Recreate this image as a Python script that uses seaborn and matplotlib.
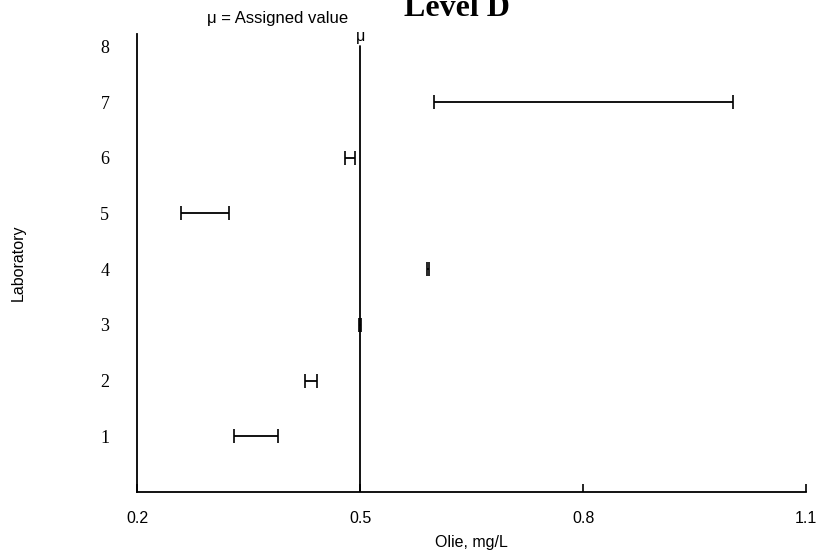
import matplotlib
matplotlib.use("Agg")
import matplotlib.pyplot as plt
import numpy as np
import pandas as pd
import seaborn as sns

# Data (interval low / high per laboratory)
labs = [1, 2, 3, 4, 5, 6, 7]
low = [0.330, 0.426, 0.499, 0.590, 0.259, 0.479, 0.600]
high = [0.390, 0.442, 0.501, 0.592, 0.323, 0.493, 1.002]
assigned_value = 0.5
x_ticks = [0.2, 0.5, 0.8, 1.1]
y_ticks = [1, 2, 3, 4, 5, 6, 7, 8]

df = pd.DataFrame({"Lab": labs, "Low": low, "High": high})
df["Mid"] = (df["Low"] + df["High"]) / 2
df["Half"] = (df["High"] - df["Low"]) / 2

sns.set_theme(style="white")
plt.rcParams["font.family"] = ["Liberation Sans", "DejaVu Sans"]
plt.rcParams["text.color"] = "black"
plt.rcParams["xtick.color"] = "black"
plt.rcParams["ytick.color"] = "black"
plt.rcParams["axes.labelcolor"] = "black"

fig = plt.figure(figsize=(8.16, 5.59), dpi=100)
ax = fig.add_axes([0.168, 0.12, 0.82, 0.819])

ax.errorbar(df["Mid"], df["Lab"], xerr=df["Half"], fmt="none",
            ecolor="black", elinewidth=1.3, capsize=4.7, capthick=1.2)

# assigned value line
ax.plot([assigned_value, assigned_value], [0, 8.0], color="black", lw=1.3)
ax.text(assigned_value, 8.05, "μ", ha="center", va="bottom", fontsize=11.5)

ax.set_xlim(0.2, 1.1)
ax.set_ylim(0, 8.22)
ax.set_xticks(x_ticks)
ax.set_xticklabels([str(v) for v in x_ticks], fontsize=11.5)
ax.set_yticks(y_ticks)
ax.set_yticklabels([str(v) for v in y_ticks], fontsize=13, family="Liberation Serif")

ax.tick_params(axis="x", direction="in", length=6, width=1.2, color="black", pad=14, bottom=True)
ax.tick_params(axis="y", length=0, pad=20)

for side in ["top", "right"]:
    ax.spines[side].set_visible(False)
for side in ["left", "bottom"]:
    ax.spines[side].set_color("black")
    ax.spines[side].set_linewidth(1.3)

ax.set_xlabel("Olie, mg/L", fontsize=11.5, labelpad=6)
fig.text(18 / 816, 1 - 263 / 559, "Laboratory", rotation=90, ha="center", va="center", fontsize=11.5)

fig.text(207 / 816, 1 - 19 / 559, "μ = Assigned value", ha="left", va="center", fontsize=12)
fig.text(457 / 816, 1 - 16 / 559, "Level D", ha="center", va="baseline",
         fontsize=23, fontweight="bold", family="Liberation Serif")

fig.savefig("out.png", dpi=100)
